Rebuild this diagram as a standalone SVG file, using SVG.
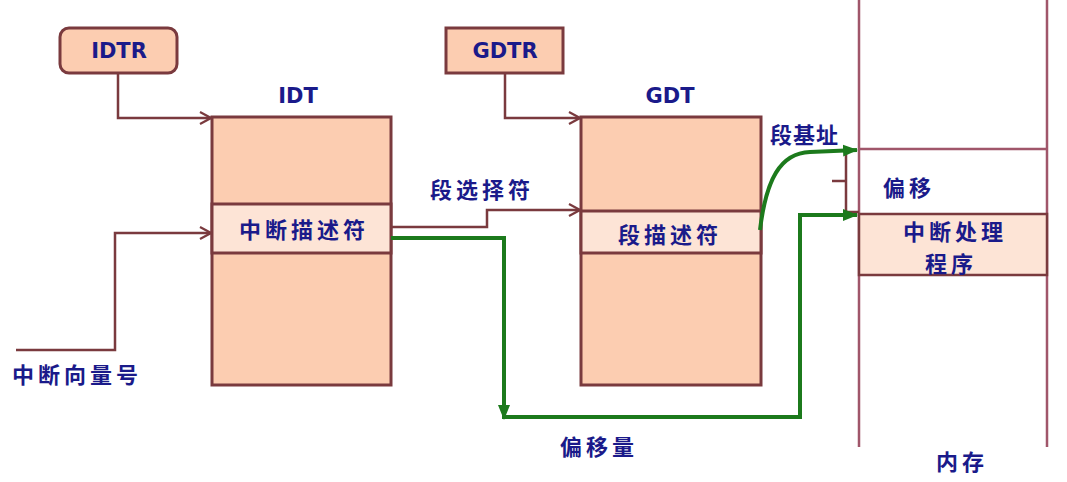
<svg xmlns="http://www.w3.org/2000/svg" width="1067" height="482" viewBox="0 0 1067 482">
<style>
.box{fill:#fccdb1;stroke:#7a3a3e;stroke-width:3}
.row{fill:#fde4d6;stroke:#7a3a3e;stroke-width:3}
.ln{fill:none;stroke:#7a3a3e;stroke-width:2.5}
.mem{fill:none;stroke:#a0566a;stroke-width:2.5}
.g{fill:none;stroke:#1c7a1c;stroke-width:4}
.en{font-family:"DejaVu Sans","Liberation Sans",sans-serif;font-weight:bold;font-size:21px;fill:#1a1a8a;text-anchor:middle}
.zh{font-family:"Noto Sans CJK SC",sans-serif;font-weight:bold;font-size:22px;fill:#1a1a8a;letter-spacing:4px}
</style>
<defs>
<marker id="oa" markerWidth="14" markerHeight="14" refX="12" refY="7" orient="auto" markerUnits="userSpaceOnUse">
<path d="M1,1 L12,7 L1,13" fill="none" stroke="#7a3a3e" stroke-width="2.2"/>
</marker>
<marker id="ga" markerWidth="16" markerHeight="14" refX="14" refY="7" orient="auto" markerUnits="userSpaceOnUse">
<path d="M0,1 L15,7 L0,13 Z" fill="#1c7a1c"/>
</marker>
</defs>

<g id="memory">
<line class="mem" x1="859" y1="0" x2="859" y2="447"/>
<line class="mem" x1="1047" y1="0" x2="1047" y2="447"/>
<line class="mem" x1="859" y1="149" x2="1047" y2="149"/>
<rect x="859" y="214" width="188" height="61" fill="#fde4d6" stroke="#7a3a3e" stroke-width="2.5"/>
<text class="zh" x="903" y="240">中断处理</text>
<text class="zh" x="925" y="272">程序</text>
<text class="zh" x="883" y="196">偏移</text>
<text class="zh" x="936" y="470">内存</text>
</g>

<g id="idtr">
<rect x="60" y="28" width="117" height="45" rx="9" class="box" stroke-width="2.5"/>
<text class="en" x="119" y="58">IDTR</text>
</g>

<g id="gdtr">
<rect x="446" y="28" width="117" height="45" class="box" stroke-width="2.5"/>
<text class="en" x="505" y="58">GDTR</text>
</g>

<g id="idt">
<text class="en" x="298" y="103">IDT</text>
<rect x="212" y="117" width="179" height="268" class="box"/>
<rect x="212" y="204" width="179" height="49" class="row"/>
<text class="zh" x="239" y="238">中断描述符</text>
</g>

<g id="gdt">
<text class="en" x="670" y="103">GDT</text>
<rect x="581" y="117" width="180" height="268" class="box"/>
<rect x="581" y="211" width="180" height="42" class="row"/>
<text class="zh" x="618" y="243">段描述符</text>
</g>

<g id="labels">
<text class="zh" x="12" y="383">中断向量号</text>
<text class="zh" x="430" y="198">段选择符</text>
<text class="zh" x="770" y="143" style="letter-spacing:1px">段基址</text>
<text class="zh" x="560" y="455">偏移量</text>
</g>

<g id="connectors">
<polyline class="ln" points="118,73 118,118 211,118" marker-end="url(#oa)"/>
<polyline class="ln" points="505,73 505,118 580,118" marker-end="url(#oa)"/>
<polyline class="ln" points="16,350 115,350 115,233 211,233" marker-end="url(#oa)"/>
<polyline class="ln" points="391,227 487,227 487,210 580,210" marker-end="url(#oa)"/>
<polyline class="ln" points="846,153 846,212 859,212"/>
<line class="ln" x1="832" y1="181" x2="846" y2="181"/>
<polyline class="g" points="391,238 504,238 504,419" marker-end="url(#ga)"/>
<polyline class="g" points="504,417 800,417 800,215 857,215" marker-end="url(#ga)"/>
<path class="g" d="M760,230 C766,180 780,153 810,152 L857,150" marker-end="url(#ga)"/>
</g>
</svg>
